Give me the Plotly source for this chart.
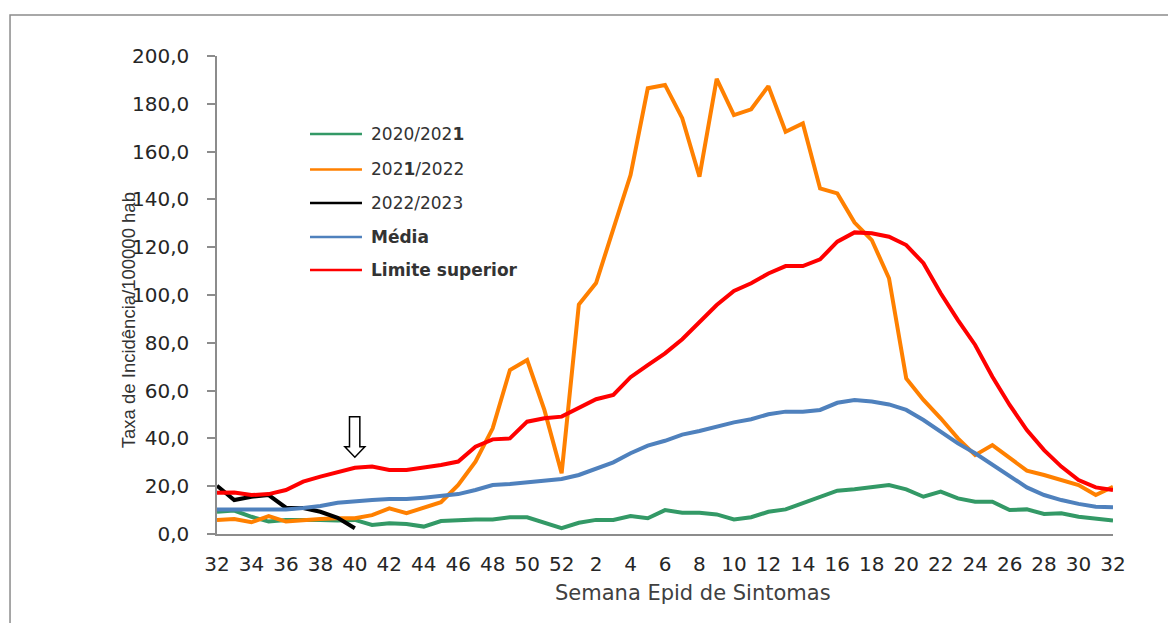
import plotly.graph_objects as go

# ---- data ----
weeks = list(range(32, 53)) + list(range(1, 33))   # semana epidemiológica
tick_idx = list(range(0, 53, 2))
tick_text = [str(weeks[i]) for i in tick_idx]

s2020_2021 = [9.3, 9.8, 7.2, 5.2, 5.9, 6.1, 5.9, 5.6, 5.9, 3.8,
              4.5, 4.2, 3.1, 5.4, 5.9, 6.1, 6.1, 7.0, 7.0, 4.7,
              2.4, 4.7, 5.9, 5.9, 7.5, 6.6, 10.0, 8.9, 8.9, 8.2,
              6.1, 7.0, 9.3, 10.3, 12.8, 15.6, 18.1, 18.7, 19.5, 20.5,
              18.7, 15.6, 17.7, 14.9, 13.5, 13.5, 10.0, 10.3, 8.4, 8.7,
              7.2, 6.6, 5.6]
s2021_2022 = [5.9, 6.3, 4.9, 7.5, 5.2, 5.9, 6.3, 6.6, 6.6, 7.9,
              10.7, 8.7, 11.2, 13.3, 20.5, 30.3, 44.2, 68.6, 72.8, 51.9,
              25.4, 96.0, 105.0, 127.2, 150.2, 186.5, 187.9, 174.0, 149.5, 190.4,
              175.3, 177.7, 187.4, 168.3, 171.8, 144.6, 142.5, 130.3, 123.0, 107.0,
              65.1, 56.1, 48.4, 40.0, 33.0, 37.2, 31.7, 26.5, 24.7, 22.6,
              20.5, 16.3, 19.8]
s2022_2023 = [20.2, 14.2, 15.6, 16.3, 11.0, 10.9, 9.3, 6.8, 2.4]
media = [10.3, 10.3, 10.0, 10.0, 10.3, 10.9, 11.7, 13.1, 13.8, 14.2,
         14.6, 14.6, 15.2, 15.9, 16.7, 18.4, 20.5, 20.9, 21.5, 22.2,
         23.0, 24.7, 27.5, 30.0, 33.8, 37.0, 39.0, 41.6, 43.1, 44.9,
         46.7, 48.0, 50.1, 51.2, 51.2, 51.9, 54.9, 56.1, 55.4, 54.2,
         51.9, 47.7, 42.8, 37.9, 33.8, 28.9, 24.0, 19.5, 16.3, 14.2,
         12.6, 11.4, 11.2]
limite_superior = [17.3, 17.4, 16.3, 16.7, 18.4, 21.9, 24.0, 25.8, 27.7, 28.2,
                   26.8, 26.8, 27.7, 28.9, 30.3, 36.5, 39.6, 40.0, 47.0, 48.4,
                   49.1, 52.6, 56.4, 58.2, 65.6, 70.7, 75.6, 81.5, 88.8, 95.8,
                   101.7, 104.9, 109.0, 112.1, 112.1, 114.9, 122.3, 126.2, 125.8, 124.4,
                   120.9, 113.3, 100.7, 89.5, 79.1, 65.8, 54.0, 43.5, 35.1, 28.2,
                   22.6, 19.5, 18.4]

series = [
    ("2020/202<b>1</b>", s2020_2021, "#339966"),
    ("202<b>1</b>/2022", s2021_2022, "#FF8000"),
    ("2022/2023", s2022_2023, "#000000"),
    ("<b>Média</b>", media, "#4F81BD"),
    ("<b>Limite superior</b>", limite_superior, "#FF0000"),
]

fig = go.Figure()
for name, vals, color in series:
    fig.add_trace(go.Scatter(
        x=list(range(len(vals))), y=vals, name=name, mode="lines",
        line=dict(color=color, width=4), showlegend=False,
    ))

# legend drawn inside the plot area (Excel style)
leg_y = [0.8368, 0.7626, 0.6925, 0.6213, 0.5523]
for (name, vals, color), ly in zip(series, leg_y):
    fig.add_shape(type="line", xref="paper", yref="paper",
                  x0=0.1038, x1=0.1618, y0=ly, y1=ly,
                  line=dict(color=color, width=2.5))
    fig.add_annotation(text=name, xref="paper", yref="paper", x=0.1696, y=ly,
                       xanchor="left", yanchor="middle", showarrow=False,
                       font=dict(family="DejaVu Sans", size=17, color="#333333"))

# marker arrow above current week (week 40)
aw = weeks.index(40)
arrow = (f"M {aw-0.31},49.1 L {aw+0.29},49.1 L {aw+0.29},36.5 L {aw+0.58},36.5 "
         f"L {aw},32.1 L {aw-0.58},36.5 L {aw-0.31},36.5 Z")
fig.add_shape(type="path", path=arrow, xref="x", yref="y",
              line=dict(color="#000000", width=1.5), fillcolor="white")

# outer frame
fig.add_shape(type="rect", xref="paper", yref="paper",
              x0=-0.231, x1=1.2, y0=-0.3, y1=1.0858,
              line=dict(color="#8c8c8c", width=1.5), fillcolor="rgba(0,0,0,0)")

fig.add_annotation(text="Taxa de Incidência/100000 hab", textangle=-90,
                   xref="paper", yref="paper", x=-0.098, y=0.4477,
                   showarrow=False, xanchor="center", yanchor="middle",
                   font=dict(family="Liberation Sans Narrow, Liberation Sans, Arial", size=18.5, color="#333333"))
fig.add_annotation(text="Semana Epid de Sintomas",
                   xref="paper", yref="paper", x=0.531, y=-0.1234,
                   showarrow=False, xanchor="center", yanchor="middle",
                   font=dict(family="DejaVu Sans", size=21, color="#404040"))

# page body has an 8px margin: size the figure so the plot lands where the reference has it
fig.update_layout(
    width=1168, height=615,
    margin=dict(l=209, r=63, t=48, b=89),
    paper_bgcolor="white", plot_bgcolor="white",
    separators=",.",
    showlegend=False,
    xaxis=dict(range=[0, 52], tickmode="array", tickvals=tick_idx, ticktext=tick_text,
               showgrid=False, zeroline=False, showline=True, linecolor="#8c8c8c", linewidth=1.5,
               ticks="", ticklabelstandoff=11,
               tickfont=dict(family="DejaVu Sans", size=20, color="#262626")),
    yaxis=dict(range=[0, 200], tickmode="linear", tick0=0, dtick=20, tickformat=".1f",
               showgrid=False, zeroline=False, showline=True, linecolor="#8c8c8c", linewidth=1.5,
               ticks="outside", ticklen=8, tickcolor="#8c8c8c", tickwidth=1.5,
               ticklabelstandoff=14,
               tickfont=dict(family="DejaVu Sans", size=20, color="#262626")),
    font=dict(family="DejaVu Sans"),
)

fig.write_html("out.html")
